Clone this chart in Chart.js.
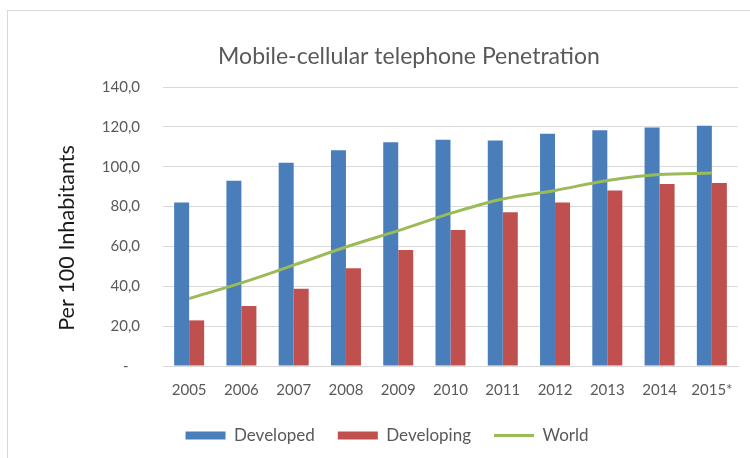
<!DOCTYPE html>
<html>
<head>
<meta charset="utf-8">
<script src="https://cdn.jsdelivr.net/npm/chart.js@4"></script>
<style>
  body { margin: 0; background: #fff; }
  #frame { position: absolute; left: 7px; top: 10px; width: 800px; height: 500px; border: 1px solid #d9d9d9; }
  #wrap { position: absolute; left: 0; top: 0; width: 750px; height: 458px; }
</style>
</head>
<body>
<div id="frame"></div>
<div id="wrap"><canvas id="grafico" width="750" height="458"></canvas></div>
<script>
var anos = ["2005", "2006", "2007", "2008", "2009", "2010", "2011", "2012", "2013", "2014", "2015*"];
var developed = [82.1, 92.9, 102.0, 108.3, 112.3, 113.5, 113.2, 116.6, 118.3, 119.7, 120.6];
var developing = [22.9, 30.1, 38.8, 49.0, 58.2, 68.3, 77.2, 82.1, 88.1, 91.3, 91.8];
var world = [33.9, 41.7, 50.6, 59.7, 67.9, 76.6, 83.8, 88.1, 93.1, 96.1, 96.8];
var titulo = "Mobile-cellular telephone Penetration";
var tituloY = "Per 100 Inhabitants";

var fonte = "Lato, 'Liberation Sans', sans-serif";
Chart.defaults.font.family = fonte;

// titulos desenhados a mao (no Excel eles nao ficam centrados)
var tituloPlugin = {
  id: "tituloPlugin",
  afterLayout: function (chart) {
    chart.legend.left += 14;
    chart.legend.right += 14;
  },
  afterDraw: function (chart) {
    var ctx = chart.ctx;
    ctx.save();
    ctx.textAlign = "center";
    ctx.textBaseline = "middle";
    ctx.font = "23px " + fonte;
    ctx.fillStyle = "#595959";
    ctx.fillText(titulo, 409, 57);
    ctx.translate(67, 238);
    ctx.rotate(-Math.PI / 2);
    ctx.font = "21.6px " + fonte;
    ctx.fillStyle = "#1a1a1a";
    ctx.fillText(tituloY, 0, 0);
    ctx.restore();
  }
};

new Chart(document.getElementById("grafico").getContext("2d"), {
  type: "bar",
  data: {
    labels: anos,
    datasets: [
      {
        label: "Developed",
        data: developed,
        backgroundColor: "#4a7ebb",
        borderWidth: 0,
        pointStyle: "rect",
        order: 1
      },
      {
        label: "Developing",
        data: developing,
        backgroundColor: "#c0504d",
        borderWidth: 0,
        pointStyle: "rect",
        order: 1
      },
      {
        type: "line",
        label: "World",
        data: world,
        borderColor: "#9bbb59",
        backgroundColor: "#9bbb59",
        borderWidth: 3,
        pointRadius: 0,
        pointStyle: "line",
        tension: 0.4,
        cubicInterpolationMode: "monotone",
        order: 0
      }
    ]
  },
  plugins: [tituloPlugin],
  options: {
    responsive: false,
    animation: false,
    categoryPercentage: 0.574,
    barPercentage: 1,
    layout: { padding: { left: 8, right: 12, top: 87, bottom: 4 } },
    plugins: {
      tooltip: { enabled: false },
      title: { display: false },
      legend: {
        position: "bottom",
        labels: {
          usePointStyle: true,
          pointStyleWidth: 40,
          boxHeight: 8,
          color: "#595959",
          font: { size: 17 },
          padding: 23,
          sort: function (a, b) { return a.datasetIndex - b.datasetIndex; }
        }
      }
    },
    scales: {
      x: {
        afterFit: function (scale) { scale.height = 38; },
        grid: { display: false, drawTicks: false },
        border: { color: "#d9d9d9" },
        ticks: { color: "#595959", font: { size: 15 }, padding: 15 }
      },
      y: {
        min: 0,
        max: 140,
        afterFit: function (scale) { scale.width = 155; },
        ticks: {
          stepSize: 20,
          color: "#595959",
          font: { size: 15 },
          padding: 23,
          callback: function (v) { return v === 0 ? "-   " : v.toFixed(1).replace(".", ","); }
        },
        grid: { color: "#d9d9d9", drawTicks: false },
        border: { display: false }
      }
    }
  }
});
</script>
</body>
</html>
